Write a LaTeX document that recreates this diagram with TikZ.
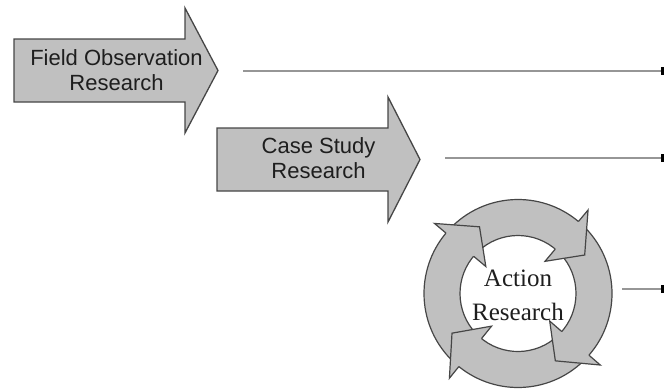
\documentclass[tikz,border=0pt]{standalone}
\usepackage{fontspec}
\setmainfont{Liberation Serif}
\newfontfamily\arialish{Liberation Sans}
\usetikzlibrary{arrows.meta}

\definecolor{boxgray}{RGB}{192,192,192}
\definecolor{edgegray}{RGB}{70,70,70}
\definecolor{linegray}{RGB}{150,150,150}
\definecolor{inkdark}{RGB}{30,30,30}

\begin{document}
\begin{tikzpicture}[x=1pt,y=-1pt,
  bigarrow/.style={fill=boxgray,draw=edgegray,line width=1.3pt,line join=miter},
  sanslabel/.style={align=center,text=inkdark,inner sep=0pt,
    font=\arialish\fontsize{22}{25}\selectfont},
  seriflabel/.style={align=center,text=inkdark,inner sep=0pt,
    font=\fontsize{25}{34}\selectfont},
  timeline/.style={draw=linegray,line width=1.5pt,
    -{Rectangle[length=4pt,width=8pt,color=black]}},
  ringbody/.style={fill=boxgray,draw=edgegray,line width=1.2pt},
  ringhead/.style={fill=boxgray},
  ringedge/.style={draw=edgegray,line width=1.2pt,line join=miter}]

\useasboundingbox (0,0) rectangle (664,389);

% Block arrow: field observation
\draw[bigarrow] (14,39) -- (185,39) -- (185,8) -- (218,70.5) -- (185,133)
  -- (185,102) -- (14,102) -- cycle;
\node[sanslabel] (fobs) at (116.5,70.5) {Field Observation\\Research};

% Block arrow: case study
\draw[bigarrow] (217,128) -- (388,128) -- (388,97) -- (420,159.5) -- (388,222)
  -- (388,191) -- (217,191) -- cycle;
\node[sanslabel] (cstudy) at (318.5,158.5) {Case Study\\Research};

% Cycle of four curved arrows around the action research label
\begin{scope}[shift={(518,293.5)},y=1pt]
  % bodies, each running clockwise from its tail to just under its head
  \foreach \t/\e in {224/137, 134/47, 44/-44, -46/-132}{
    \draw[ringbody] (\t:94) arc[start angle=\t,end angle=\e,radius=94]
      -- (\e:58) arc[start angle=\e,end angle=\t,radius=58] -- cycle;
  }
  % heads on top
  \foreach \b in {140,50,-41,-129}{
    \fill[ringhead] (\b:109) -- ({\b-20}:77) -- (\b:42) -- cycle;
    \draw[ringedge] (\b:94) -- (\b:109) -- ({\b-20}:77) -- (\b:42) -- (\b:58);
  }
\end{scope}
\node[seriflabel] (action) at (518,295) {Action\\Research};

% Time lines ending in square markers
\coordinate (s1) at (243,71);
\coordinate (e1) at (665,71);
\coordinate (s2) at (445,158);
\coordinate (e2) at (665,158);
\coordinate (s3) at (622,289);
\coordinate (e3) at (665,289);
\draw[timeline] (s1) -- (e1);
\draw[timeline] (s2) -- (e2);
\draw[timeline] (s3) -- (e3);

\end{tikzpicture}
\end{document}
